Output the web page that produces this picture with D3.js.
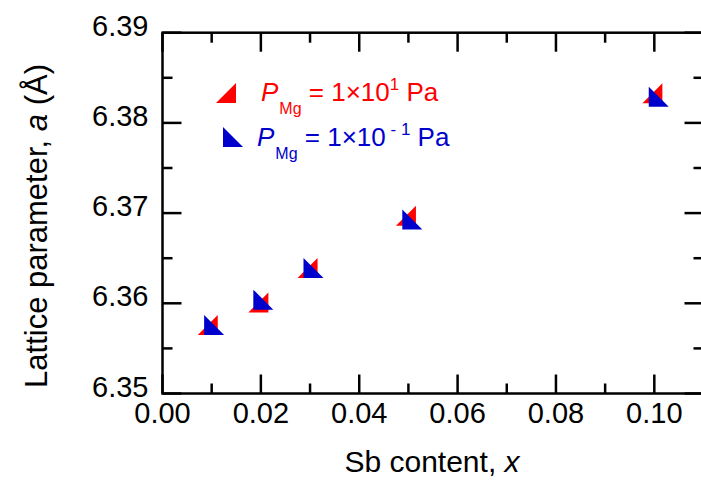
<!DOCTYPE html>
<html>
<head>
<meta charset="utf-8">
<script src="https://cdn.jsdelivr.net/npm/d3@7"></script>
<style>
  body { margin: 0; background: #fff; }
  text { font-family: Arial, "Liberation Sans", sans-serif; }
</style>
</head>
<body>
<svg id="svg" width="701" height="481"></svg>
<script>
// data
const xRed = [0.0092, 0.0195, 0.0295, 0.0495, 0.0996];
const aRed = [6.3576, 6.3601, 6.3639, 6.3697, 6.3833];
const xBlue = [0.0105, 0.0205, 0.0307, 0.0508, 0.1009];
const aBlue = [6.3576, 6.3604, 6.3639, 6.3693, 6.3829];

const xTicks = [0, 0.02, 0.04, 0.06, 0.08, 0.10];
const xMinor = [0.01, 0.03, 0.05, 0.07, 0.09, 0.11];
const yTicks = [6.35, 6.36, 6.37, 6.38, 6.39];
const yMinor = [6.355, 6.365, 6.375, 6.385];

const red = "#ff0000", blue = "#0000cc";

// plot box
const box = { left: 162.5, right: 703.5, top: 32.7, bottom: 393.5 };

const svg = d3.select("#svg");

const x = d3.scaleLinear().domain([0, 0.11]).range([box.left, box.right]);
const y = d3.scaleLinear().domain([6.35, 6.39]).range([box.bottom, box.top]);

// ticks, all pointing inward
const major = 19, minor = 10;
const ax = svg.append("g").attr("stroke", "#000").attr("stroke-width", 2.5);

function xTick(v, len) {
  ax.append("line").attr("x1", x(v)).attr("x2", x(v)).attr("y1", box.bottom).attr("y2", box.bottom - len);
  ax.append("line").attr("x1", x(v)).attr("x2", x(v)).attr("y1", box.top).attr("y2", box.top + len);
}
function yTick(v, len) {
  ax.append("line").attr("y1", y(v)).attr("y2", y(v)).attr("x1", box.left).attr("x2", box.left + len);
  ax.append("line").attr("y1", y(v)).attr("y2", y(v)).attr("x1", box.right).attr("x2", box.right - len);
}
xTicks.forEach(v => xTick(v, major));
xMinor.forEach(v => xTick(v, minor));
yTicks.forEach(v => yTick(v, major));
yMinor.forEach(v => yTick(v, minor));

// frame
svg.append("rect")
  .attr("x", box.left).attr("y", box.top)
  .attr("width", box.right - box.left).attr("height", box.bottom - box.top)
  .attr("fill", "none").attr("stroke", "#000").attr("stroke-width", 2.5);

// tick labels
svg.append("g").selectAll("text").data(xTicks).enter().append("text")
  .attr("x", d => x(d)).attr("y", box.bottom + 29)
  .attr("text-anchor", "middle").attr("font-size", 29)
  .text(d => d.toFixed(2));

svg.append("g").selectAll("text").data(yTicks).enter().append("text")
  .attr("x", box.left - 14).attr("y", d => y(d) + 3)
  .attr("text-anchor", "end").attr("font-size", 29)
  .text(d => d.toFixed(2));

// axis titles
const xt = svg.append("text")
  .attr("x", 432).attr("y", 472)
  .attr("text-anchor", "middle").attr("font-size", 30);
xt.append("tspan").text("Sb content, ");
xt.append("tspan").attr("font-style", "italic").text("x");

const yt = svg.append("text")
  .attr("transform", "translate(47,226) rotate(-90)")
  .attr("text-anchor", "middle").attr("font-size", 31);
yt.append("tspan").text("Lattice parameter, ");
yt.append("tspan").attr("font-style", "italic").text("a");
yt.append("tspan").text(" (\u00c5)");

// half-square triangle markers
const s = 20;
const redShape = `M${-s / 2},${s / 2}L${s / 2},${s / 2}L${s / 2},${-s / 2}Z`;
const blueShape = `M${-s / 2},${-s / 2}L${-s / 2},${s / 2}L${s / 2},${s / 2}Z`;

svg.append("g").selectAll("path").data(xRed).enter().append("path")
  .attr("d", redShape).attr("fill", red)
  .attr("transform", (d, i) => `translate(${x(d)},${y(aRed[i])})`);

svg.append("g").selectAll("path").data(xBlue).enter().append("path")
  .attr("d", blueShape).attr("fill", blue)
  .attr("transform", (d, i) => `translate(${x(d)},${y(aBlue[i])})`);

// legend
svg.append("path").attr("d", redShape).attr("fill", red).attr("transform", "translate(226,93)");
svg.append("path").attr("d", blueShape).attr("fill", blue).attr("transform", "translate(233,137)");

function legendText(tx, ty, col, exp) {
  const t = svg.append("text").attr("x", tx).attr("y", ty).attr("fill", col).attr("font-size", 26);
  t.append("tspan").attr("font-style", "italic").text("P");
  t.append("tspan").attr("font-size", 16).attr("dy", 13).attr("dx", 1).text("Mg");
  t.append("tspan").attr("dy", -13).text(" = 1\u00d710");
  t.append("tspan").attr("font-size", 17).attr("dy", -11).text(exp);
  t.append("tspan").attr("dy", 11).text(" Pa");
}
legendText(261, 101, red, "1");
legendText(257, 146, blue, " - 1");
</script>
</body>
</html>
